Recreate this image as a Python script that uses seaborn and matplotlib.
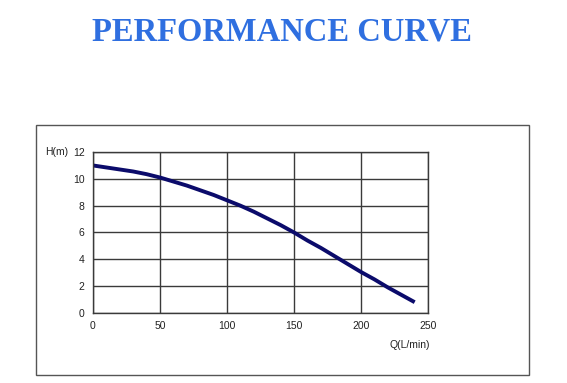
import numpy as np
import seaborn as sns
import matplotlib.pyplot as plt
from matplotlib.patches import Rectangle

# datos
caudal = [0, 10, 20, 30, 40, 50, 60, 70, 80, 90, 100, 110, 120, 130, 140,
          150, 160, 170, 180, 190, 200, 210, 220, 230, 240]
altura = [11.0, 10.85, 10.7, 10.55, 10.35, 10.1, 9.8, 9.5, 9.15, 8.8, 8.4,
          8.0, 7.55, 7.05, 6.55, 6.0, 5.4, 4.85, 4.25, 3.65, 3.05, 2.5,
          1.9, 1.35, 0.8]
ticks_x = [0, 50, 100, 150, 200, 250]
ticks_y = [0, 2, 4, 6, 8, 10, 12]

sns.set_style("white")
plt.rcParams['font.family'] = ['Liberation Sans', 'DejaVu Sans']

fig = plt.figure(figsize=(5.67, 3.83), dpi=100)
ax = fig.add_axes([0.164, 0.183, 0.591, 0.420])

sns.lineplot(x=caudal, y=altura, ax=ax, color='#0b0b6b', linewidth=2.8,
             solid_capstyle='butt')

ax.set_xlim(0, 250)
ax.set_ylim(0, 12)
ax.set_xticks(ticks_x)
ax.set_yticks(ticks_y)
ax.grid(True, color='#3a3a3a', linewidth=1.0)
for s in ax.spines.values():
    s.set_color('#3a3a3a')
    s.set_linewidth(1.0)
ax.tick_params(length=0, labelsize=7.5, colors='#222222', pad=6)
ax.set_xlabel("")
ax.set_ylabel("")

fig.text(45 / 567, 1 - 152 / 383, "H(m)", fontsize=7.5, color='#222222',
         ha='left', va='center')
fig.text(410 / 567, 1 - 345 / 383, "Q(L/min)", fontsize=7.5, color='#222222',
         ha='center', va='center')

# marco exterior
fig.add_artist(Rectangle((36 / 567, 1 - 375 / 383), (529 - 36) / 567,
                         (375 - 125) / 383, transform=fig.transFigure,
                         fill=False, edgecolor='#555555', linewidth=1.0))

fig.text(282 / 567, 1 - 32 / 383, "PERFORMANCE CURVE", fontsize=23.5,
         fontweight='bold', family=['Liberation Serif', 'DejaVu Serif'],
         color='#2f6fe0', ha='center', va='center')

plt.savefig("out.png", dpi=100)
